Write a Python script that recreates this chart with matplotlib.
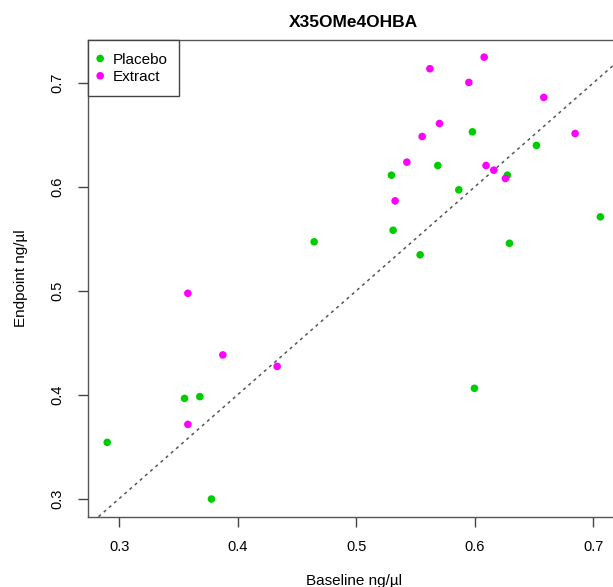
import matplotlib
matplotlib.use("Agg")
import matplotlib.pyplot as plt
import numpy as np

plt.rcParams['font.family'] = ['Liberation Sans', 'DejaVu Sans']

# Baseline / endpoint concentrations (ng/ul)
placebo_base = [0.5979, 0.6519, 0.5687, 0.5296, 0.6274, 0.5864, 0.7058, 0.5310,
                0.6291, 0.5538, 0.4644, 0.3551, 0.3680, 0.2899, 0.3778, 0.5996]
placebo_end = [0.6528, 0.6397, 0.6204, 0.6111, 0.6111, 0.5970, 0.5710, 0.5581,
               0.5456, 0.5345, 0.5470, 0.3964, 0.3981, 0.3541, 0.2996, 0.4061]

extract_base = [0.6078, 0.5620, 0.5949, 0.6581, 0.5701, 0.5555, 0.6845, 0.5426,
                0.6094, 0.6159, 0.6257, 0.5327, 0.3579, 0.3874, 0.4332, 0.3579]
extract_end = [0.7246, 0.7135, 0.7003, 0.6859, 0.6608, 0.6483, 0.6512, 0.6236,
               0.6204, 0.6159, 0.6079, 0.5864, 0.4975, 0.4382, 0.4272, 0.3714]

groups = ['Placebo', 'Extract']
group_colors = ['#00CD00', '#FF00FF']

xticks = [0.3, 0.4, 0.5, 0.6, 0.7]
yticks = [0.3, 0.4, 0.5, 0.6, 0.7]


def padded(vals):
    # R style 4% range extension
    lo, hi = min(vals), max(vals)
    r = hi - lo
    return lo - 0.04 * r, hi + 0.04 * r


fig = plt.figure(figsize=(6.13, 5.87), dpi=100)
ax = fig.add_axes([87.5 / 613, 70.3 / 587, 532.6 / 613, 477.2 / 587])

ax.scatter(placebo_base, placebo_end, s=30, color=group_colors[0],
           edgecolors='none', label=groups[0], zorder=3)
ax.scatter(extract_base, extract_end, s=30, color=group_colors[1],
           edgecolors='none', label=groups[1], zorder=3)

ax.axline((0, 0), slope=1, color='#555555', lw=1.1,
          linestyle=(0, (2, 2.5)), zorder=2)

ax.set_xlim(*padded(placebo_base + extract_base))
ax.set_ylim(*padded(placebo_end + extract_end))

ax.set_xticks(xticks)
ax.set_xticklabels([str(t) for t in xticks])
ax.set_yticks(yticks)
ax.set_yticklabels([str(t) for t in yticks], rotation=90, va='center')

ax.tick_params(axis='both', direction='out', length=7, width=1,
               color='#444444', labelsize=10.5, pad=10)

for sp in ax.spines.values():
    sp.set_color('#555555')
    sp.set_linewidth(1)

ax.set_xlabel('Baseline ng/µl', fontsize=11, labelpad=14)
ax.set_ylabel('Endpoint ng/µl', fontsize=11, labelpad=16)
ax.set_title('X35OMe4OHBA', fontsize=12.5, fontweight='bold', pad=9)

leg = ax.legend(loc='upper left', bbox_to_anchor=(0, 1), borderaxespad=0,
                fancybox=False, fontsize=11, handletextpad=0.75,
                handlelength=0.1, handleheight=1.15, borderpad=0.78,
                labelspacing=0.1, scatterpoints=1, framealpha=1)
leg.get_frame().set_edgecolor('#444444')
leg.get_frame().set_linewidth(1)

fig.savefig('out.png', dpi=100)
